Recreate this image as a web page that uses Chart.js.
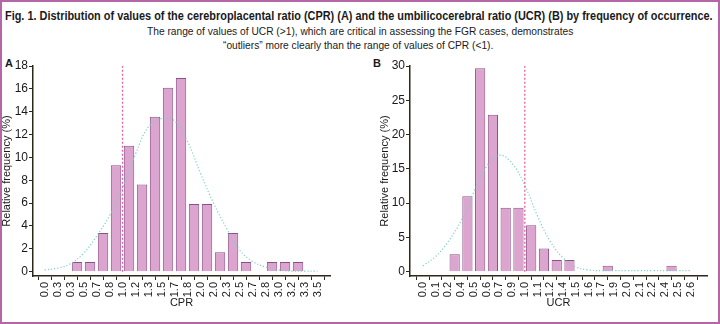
<!DOCTYPE html>
<html>
<head>
<meta charset="utf-8">
<script src="https://cdn.jsdelivr.net/npm/chart.js@4.4.1/dist/chart.umd.min.js"></script>
<style>
  html, body { margin: 0; padding: 0; background: #fff; }
  #frame {
    position: relative; width: 720px; height: 324px; box-sizing: border-box;
    border: 2px solid #b466a6; overflow: hidden;
    font-family: "Liberation Sans", Arial, sans-serif; color: #1a1a1a;
  }
  .head { position: absolute; white-space: nowrap; transform-origin: 0 0; }
  #t1 { top: 7px; font-size: 12.5px; font-weight: bold; }
  #t2 { top: 23px; font-size: 11.5px; }
  #t3 { top: 37px; font-size: 11.5px; }
  .panel { position: absolute; font-weight: bold; font-size: 11px; }
  .box { position: absolute; }
</style>
</head>
<body>
<div id="frame">
  <span class="head" id="t1">Fig. 1. Distribution of values of the cerebroplacental ratio (CPR) (A) and the umbilicocerebral ratio (UCR) (B) by frequency of occurrence.</span>
  <span class="head" id="t2">The range of values of UCR (&gt;1), which are critical in assessing the FGR cases, demonstrates</span>
  <span class="head" id="t3">“outliers” more clearly than the range of values of CPR (&lt;1).</span>
  <div class="panel" style="left:3px; top:55px;">A</div>
  <div class="panel" style="left:371px; top:55px;">B</div>
  <div class="box" style="left:-2px; top:53px; width:362px; height:265px;"><canvas id="chartA"></canvas></div>
  <div class="box" style="left:358px; top:53px; width:362px; height:265px;"><canvas id="chartB"></canvas></div>
</div>
<script>
// CPR histogram (A)
const cprTicks = ['0.0','0.3','0.3','0.5','0.7','0.8','1.0','1.2','1.3','1.5','1.7','1.8','2.0','2.0','2.3','2.5','2.7','2.8','3.0','3.2','3.3','3.5']
const cprFreq = [null,null,0.85,0.85,3.39,9.32,11.02,7.63,13.56,16.10,16.95,5.93,5.93,1.69,3.39,0.85,null,0.85,0.85,0.85,null]
const cprNormal = [0.15,0.3,0.7,1.6,3.1,4.9,7.3,10.3,12.7,13.4,13.2,11.4,8.6,6.0,3.8,1.9,0.9,0.4,0.15,0.05,0.05,0.05]
const cprCutoff = 6   // tick "1.0"

// UCR histogram (B)
const ucrTicks = ['0.0','0.1','0.2','0.4','0.5','0.6','0.7','0.9','1.0','1.1','1.2','1.4','1.5','1.6','1.7','1.9','2.0','2.1','2.2','2.4','2.5','2.6']
const ucrFreq = [null,null,2.54,11.02,29.66,22.88,9.32,9.32,6.78,3.39,1.69,1.69,null,null,0.85,null,null,null,null,0.85,null]
const ucrNormal = [0.84,2.2,4.4,7.4,11.6,15.3,17.0,15.8,12.6,8.1,4.4,2.0,0.7,0.25,0.15,0.15,0.15,0.15,0.15,0.15,0.15,0.15]
const ucrCutoff = 8   // tick "1.0"

const axisColor = '#2e2619'
const barFill = '#dba5cf'
const barEdge = '#8c5088'

// squeeze the heading lines to the narrow width of the original typeface
function squeeze(id, k, center) {
    const el = document.getElementById(id)
    const w = el.offsetWidth
    el.style.left = (center - w * k / 2) + 'px'
    el.style.transform = 'scaleX(' + k + ')'
}
const t1 = document.getElementById('t1').offsetWidth
const t2 = document.getElementById('t2').offsetWidth
squeeze('t1', 708 / t1, 357)
squeeze('t2', 426 / t2, 358)
squeeze('t3', 426 / t2, 356)

function makeChart(id, ticks, freq, normal, cutoff, y, x, pad) {
    const bars = freq.map((v, i) => ({ x: i + 0.5, y: v }))
    const curve = normal.map((v, i) => ({ x: i, y: v }))
    const cut = [{ x: cutoff, y: 0 }, { x: cutoff, y: y.max }]
    const font = { family: '"Liberation Sans", Arial, sans-serif', size: 11 }
    const yFont = { family: '"Liberation Sans", Arial, sans-serif', size: 12 }

    return new Chart(document.getElementById(id), {
        data: {
            datasets: [
                {
                    type: 'line', data: cut, borderColor: '#e4609f', borderWidth: 1.3,
                    borderDash: [2, 2], pointRadius: 0, order: 0
                },
                {
                    type: 'line', data: curve, borderColor: '#7fcfc6', borderWidth: 1.2,
                    borderDash: [1.2, 2], pointRadius: 0, tension: 0.4, order: 1
                },
                {
                    type: 'bar', data: bars, backgroundColor: barFill, borderColor: barEdge,
                    borderWidth: 1, barPercentage: 0.8, categoryPercentage: 1, order: 2
                }
            ]
        },
        options: {
            responsive: true,
            maintainAspectRatio: false,
            animation: false,
            layout: { padding: pad },
            plugins: { legend: { display: false }, tooltip: { enabled: false } },
            scales: {
                x: {
                    type: 'linear', min: x.min, max: x.max,
                    afterBuildTicks: (s) => { s.ticks = ticks.map((t, i) => ({ value: i })) },
                    afterFit: (s) => { s.height = 36 },
                    ticks: {
                        autoSkip: false, maxRotation: 90, minRotation: 90, padding: 2,
                        color: '#1a1a1a', font: font,
                        callback: (v) => ticks[v]
                    },
                    grid: { drawOnChartArea: false, drawTicks: true, tickLength: 4, color: axisColor, lineWidth: 1 },
                    border: { color: axisColor, width: 1.5 },
                    title: { display: true, text: x.title, color: '#1a1a1a', font: font, padding: { top: 0, bottom: 2 } }
                },
                y: {
                    min: y.min, max: y.max,
                    afterBuildTicks: (s) => {
                        const t = []
                        for (let v = 0; v <= y.max; v += y.step) t.push({ value: v })
                        s.ticks = t
                    },
                    afterFit: (s) => { s.width = y.width },
                    ticks: { color: '#1a1a1a', font: yFont, padding: 1 },
                    grid: { drawOnChartArea: false, drawTicks: true, tickLength: 4, color: axisColor, lineWidth: 1 },
                    border: { color: axisColor, width: 1.5 },
                    title: { display: true, text: 'Relative frequency (%)', color: '#1a1a1a', font: font, padding: { top: 0, bottom: 0 } }
                }
            }
        }
    })
}

makeChart('chartA', cprTicks, cprFreq, cprNormal, cprCutoff,
    { min: -0.38, max: 18, step: 2, width: 33 },
    { min: -0.367, max: 21.44, title: 'CPR' },
    { left: 0, right: 32, top: 11, bottom: 8 })
makeChart('chartB', ucrTicks, ucrFreq, ucrNormal, ucrCutoff,
    { min: -0.63, max: 30, step: 5, width: 32 },
    { min: -0.47, max: 21.75, title: 'UCR' },
    { left: 18, right: 15, top: 11, bottom: 8 })
</script>
</body>
</html>
